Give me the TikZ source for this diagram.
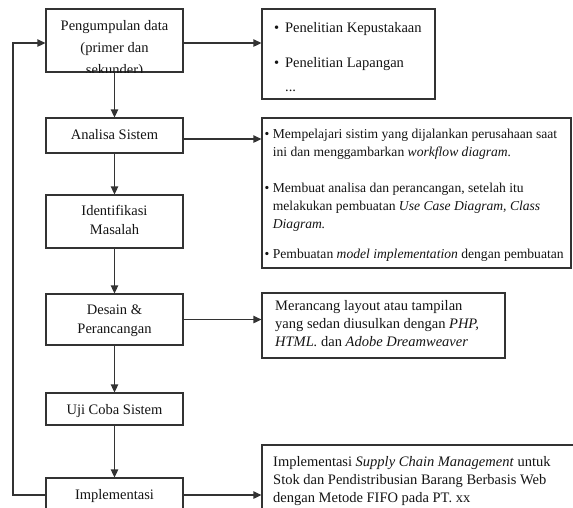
\documentclass[tikz,border=0pt]{standalone}
\usepackage{fontspec}
\setmainfont{Liberation Serif}
\usetikzlibrary{arrows.meta}
\definecolor{linec}{gray}{0.2}
\definecolor{txtc}{gray}{0.08}
\begin{document}
\begin{tikzpicture}[x=1pt,y=-1pt,
  box/.style={draw=linec, line width=1.3pt, fill=white, inner sep=0pt},
  arr/.style={draw=linec, line width=1.3pt, -{Triangle[length=8pt,width=7.5pt]}},
  txt/.style={inner sep=0pt, text=txtc, font=\fontsize{14.5}{18}\selectfont},
  ctxt/.style={inner sep=0pt, text=txtc, font=\fontsize{14.5}{19}\selectfont, anchor=base}]
\useasboundingbox (0,0) rectangle (573,507);
\clip (0,0) rectangle (573,507);

% left column boxes
\node[box, minimum width=137pt, minimum height=63pt] (b1) at (114.5,40.5) {};
\node[box, minimum width=137pt, minimum height=35pt] (b2) at (114.5,135.5) {};
\node[box, minimum width=137pt, minimum height=53pt] (b3) at (114.5,221.5) {};
\node[box, minimum width=137pt, minimum height=51pt] (b4) at (114.5,319.5) {};
\node[box, minimum width=137pt, minimum height=32pt] (b5) at (114.5,409) {};
\node[box, minimum width=137pt, minimum height=34pt] (b6) at (114.5,495) {};

% right column boxes
\node[box, minimum width=173pt, minimum height=90pt] (r1) at (348.5,54) {};
\node[box, minimum width=309pt, minimum height=150pt] (r2) at (416.5,193) {};
\node[box, minimum width=243pt, minimum height=65pt] (r3) at (383.5,325.5) {};
\node[box, minimum width=340pt, minimum height=100pt] (r4) at (432,495) {};

% texts of left boxes
\begin{scope}
\clip (b1.north west) rectangle (b1.south east);
\node[ctxt] (t1) at (114.5,30.5) {\fontsize{14.5}{22}\selectfont\begin{tabular}[t]{@{}c@{}}Pengumpulan data\\(primer dan\\sekunder)\end{tabular}};
\end{scope}
\node[ctxt] (t2) at (114.5,139) {Analisa Sistem};
\node[ctxt] (t3) at (114.5,215) {\begin{tabular}[t]{@{}c@{}}Identifikasi\\Masalah\end{tabular}};
\node[ctxt] (t4) at (114.5,314) {\begin{tabular}[t]{@{}c@{}}Desain \&\\Perancangan\end{tabular}};
\node[ctxt] (t5) at (114.5,414.5) {Uji Coba Sistem};
\node[ctxt] (t6) at (114.5,499.5) {Implementasi};

% texts of right boxes
\begin{scope}
\clip (r1.north west) rectangle (r1.south east);
\node[txt, anchor=base west] (s1) at (274,32) {\begin{tabular}[t]{@{}l@{\hspace{5.9pt}}l@{}}•&Penelitian Kepustakaan\\[17pt]•&Penelitian Lapangan\\[6pt]&...\end{tabular}};
\end{scope}
\node[txt, anchor=base west, font=\fontsize{13.6}{18}\selectfont] (s2) at (264.5,138) {\begin{tabular}[t]{@{}l@{\hspace{3.4pt}}l@{}}
•&Mempelajari sistim yang dijalankan perusahaan saat\\
&ini dan menggambarkan \textit{workflow diagram.}\\[18pt]
•&Membuat analisa dan perancangan, setelah itu\\
&melakukan pembuatan \textit{Use Case Diagram, Class}\\
&\textit{Diagram.}\\[12pt]
•&Pembuatan \textit{model implementation} dengan pembuatan
\end{tabular}};
\node[txt, anchor=base west] (s3) at (275,310) {\begin{tabular}[t]{@{}l@{}}
Merancang layout atau tampilan\\
yang sedan diusulkan dengan \textit{PHP,}\\
\textit{HTML.} dan \textit{Adobe Dreamweaver}
\end{tabular}};
\node[txt, anchor=base west] (s4) at (273,466) {\begin{tabular}[t]{@{}l@{}}
Implementasi \textit{Supply Chain Management} untuk\\
Stok dan Pendistribusian Barang Berbasis Web\\
dengan Metode FIFO pada PT. xx
\end{tabular}};

% vertical flow
\draw[arr] (b1.south) -- (b2.north);
\draw[arr] (b2.south) -- (b3.north);
\draw[arr] (b3.south) -- (b4.north);
\draw[arr] (b4.south) -- (b5.north);
\draw[arr] (b5.south) -- (b6.north);

% horizontal arrows
\coordinate (a1) at ([yshift=-2.5pt]b1.east);
\coordinate (a2) at ([yshift=-3.5pt]b2.east);
\draw[arr] (a1) -- (a1 -| r1.west);
\draw[arr] (a2) -- (a2 -| r2.west);
\draw[arr] (b4.east) -- (b4.east -| r3.west);
\draw[arr] (b6.east) -- (b6.east -| r4.west);

% feedback loop
\coordinate (lp) at (13,43);
\draw[arr] (b6.west) -| (lp) -- (lp -| b1.west);
\end{tikzpicture}
\end{document}
